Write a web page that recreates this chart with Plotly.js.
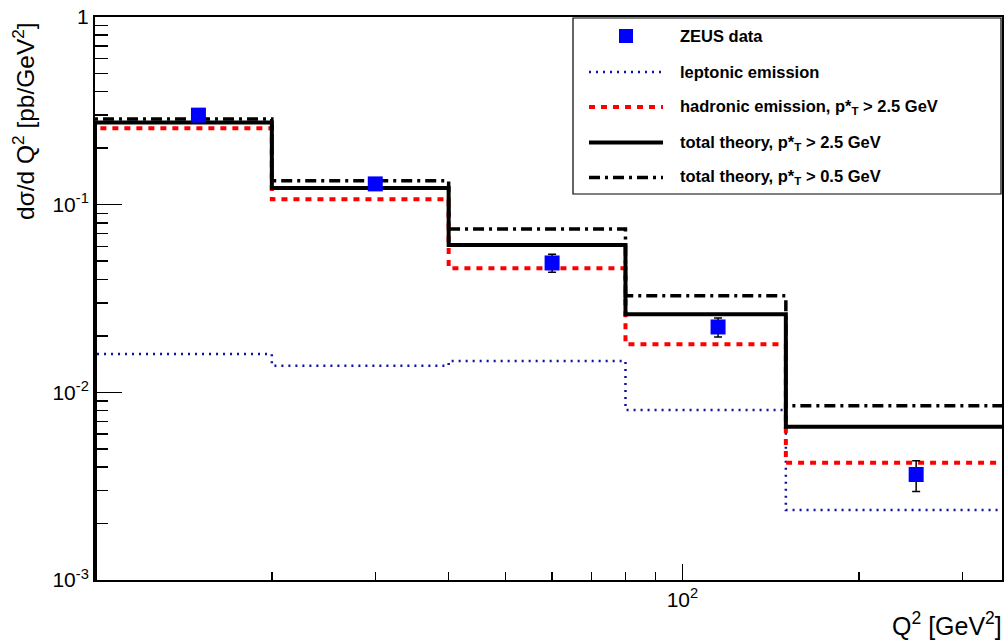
<!DOCTYPE html>
<html>
<head>
<meta charset="utf-8">
<script src="https://cdn.plot.ly/plotly-3.0.1.min.js"></script>
<style>
  html, body { margin: 0; padding: 0; background: #ffffff; }
  #chart { width: 1006px; height: 642px; }
</style>
</head>
<body>
<div id="chart"></div>
<script>
// Q^2 bin edges [GeV^2]
const binEdges = [10, 20, 40, 80, 150, 350];

// ZEUS measurement: bin centres, cross sections and errors [pb/GeV^2]
const dataQ2 = [15, 30, 60, 115, 250];
const dataXsec = [0.300, 0.129, 0.0489, 0.0223, 0.00365];
const dataErrUp = [0.02, 0.009, 0.0055, 0.0026, 0.00067];
const dataErrDown = [0.02, 0.009, 0.0053, 0.0026, 0.00069];

// Theory predictions per bin
const leptonic = [0.0160, 0.01387, 0.0147, 0.00805, 0.00236];
const hadronic25 = [0.255, 0.1068, 0.0458, 0.01803, 0.00422];
const total25 = [0.274, 0.1227, 0.0610, 0.0261, 0.00656];
const total05 = [0.286, 0.134, 0.0742, 0.0327, 0.00849];

// Axis ticks
const yTickVals = [0.001, 0.01, 0.1, 1];
const yTickText = ["10<sup>-3</sup>", "10<sup>-2</sup>", "10<sup>-1</sup>", "1"];
const xTickVals = [100];
const xTickText = ["10<sup>2</sup>"];

// Legend entries
const legendLabels = [
  "ZEUS data",
  "leptonic emission",
  "hadronic emission, p*<sub>T</sub> > 2.5 GeV",
  "total theory, p*<sub>T</sub> > 2.5 GeV",
  "total theory, p*<sub>T</sub> > 0.5 GeV"
];

// Histogram outline: rises from below the axis at the first edge, then steps across the bins
function histo(values) {
  const x = [binEdges[0]];
  const y = [1e-6];
  for (let i = 0; i < values.length; i++) {
    x.push(binEdges[i]);
    y.push(values[i]);
  }
  x.push(binEdges[binEdges.length - 1]);
  y.push(values[values.length - 1]);
  return { x, y };
}

const styles = {
  lep: { color: "#1010a0", width: 2.5, dash: "2px,5px" },
  had: { color: "#ff0000", width: 4, dash: "6px,6px" },
  tot25: { color: "#000000", width: 4, dash: "solid" },
  tot05: { color: "#000000", width: 3.5, dash: "11px,5px,3px,5px" }
};

function stepTrace(values, st) {
  const h = histo(values);
  return {
    x: h.x, y: h.y, type: "scatter", mode: "lines",
    line: { shape: "hv", color: st.color, width: st.width, dash: st.dash },
    hoverinfo: "skip", showlegend: false, cliponaxis: true
  };
}

const yMinor = [];
for (let d = -3; d < 0; d++) {
  for (let k = 2; k <= 9; k++) yMinor.push(k * Math.pow(10, d));
}
const xMinor = [20, 30, 40, 50, 60, 70, 80, 90, 200, 300];

const traces = [
  stepTrace(leptonic, styles.lep),
  stepTrace(hadronic25, styles.had),
  stepTrace(total25, styles.tot25),
  stepTrace(total05, styles.tot05),
  {
    x: dataQ2, y: dataXsec, type: "scatter", mode: "markers",
    marker: { symbol: "square", size: 15, color: "#0000ff" },
    error_y: {
      type: "data", symmetric: false,
      array: dataErrUp, arrayminus: dataErrDown,
      color: "#000000", thickness: 1.5, width: 4
    },
    showlegend: false, hoverinfo: "skip"
  }
];

// Legend box drawn in paper coordinates
const plotL = 95, plotR = 1002, plotT = 17, plotB = 580;
const px = v => (v - plotL) / (plotR - plotL);
const py = v => (plotB - v) / (plotB - plotT);

const rowY = [36, 72, 107, 142.5, 177.5];
const sampleX0 = 589, sampleX1 = 663, textX = 678;

const shapes = [
  { type: "rect", xref: "paper", yref: "paper",
    x0: px(573), x1: px(1001), y0: py(194), y1: py(18),
    line: { color: "#000000", width: 1.2 }, fillcolor: "#ffffff", layer: "above" },
  { type: "rect", xref: "paper", yref: "paper",
    x0: px(619), x1: px(633), y0: py(43), y1: py(29),
    line: { width: 0 }, fillcolor: "#0000ff", layer: "above" }
];
const lineStyles = [styles.lep, styles.had, styles.tot25, styles.tot05];
lineStyles.forEach((st, i) => {
  shapes.push({
    type: "line", xref: "paper", yref: "paper", layer: "above",
    x0: px(sampleX0), x1: px(sampleX1), y0: py(rowY[i + 1]), y1: py(rowY[i + 1]),
    line: { color: st.color, width: st.width, dash: st.dash }
  });
});

const textFamily = "Liberation Sans, Arial, sans-serif";

const annotations = legendLabels.map((t, i) => ({
  xref: "paper", yref: "paper", x: px(textX), y: py(rowY[i]),
  xanchor: "left", yanchor: "middle", showarrow: false, text: t,
  font: { family: textFamily, size: 16.5, color: "#000000", weight: "bold" }
}));

annotations.push({
  xref: "paper", yref: "paper", x: px(1004), y: py(624),
  xanchor: "right", yanchor: "middle", showarrow: false,
  text: "Q<sup>2</sup> [GeV<sup>2</sup>]",
  font: { family: textFamily, size: 25, color: "#000000" }
});
annotations.push({
  xref: "paper", yref: "paper", x: px(24), y: py(121),
  xanchor: "center", yanchor: "middle", showarrow: false, textangle: -90,
  text: "dσ/d Q<sup>2</sup> [pb/GeV<sup>2</sup>]",
  font: { family: textFamily, size: 24.5, color: "#000000" }
});

const axisFont = { family: textFamily, size: 21, color: "#000000" };

const layout = {
  width: 1006, height: 642,
  margin: { l: plotL, r: 1006 - plotR, t: plotT, b: 642 - plotB, pad: 0 },
  paper_bgcolor: "#ffffff", plot_bgcolor: "#ffffff",
  showlegend: false,
  xaxis: {
    type: "log", range: [Math.log10(binEdges[0]), Math.log10(binEdges[binEdges.length - 1])],
    tickmode: "array", tickvals: xTickVals, ticktext: xTickText,
    ticks: "inside", ticklen: 16, tickwidth: 1.5, tickcolor: "#000000",
    minor: { tickmode: "array", tickvals: xMinor, ticks: "inside", ticklen: 8, tickwidth: 1.5, tickcolor: "#000000", showgrid: false },
    showgrid: false, zeroline: false,
    showline: true, linecolor: "#000000", linewidth: 2, mirror: true,
    tickfont: axisFont
  },
  yaxis: {
    type: "log", range: [-3, 0],
    tickmode: "array", tickvals: yTickVals, ticktext: yTickText,
    ticks: "inside", ticklen: 27, tickwidth: 1.5, tickcolor: "#000000",
    minor: { tickmode: "array", tickvals: yMinor, ticks: "inside", ticklen: 13, tickwidth: 1.5, tickcolor: "#000000", showgrid: false },
    showgrid: false, zeroline: false,
    showline: true, linecolor: "#000000", linewidth: 2, mirror: true,
    tickfont: axisFont
  },
  shapes: shapes,
  annotations: annotations
};

Plotly.newPlot("chart", traces, layout, { staticPlot: true, displayModeBar: false });
</script>
</body>
</html>
